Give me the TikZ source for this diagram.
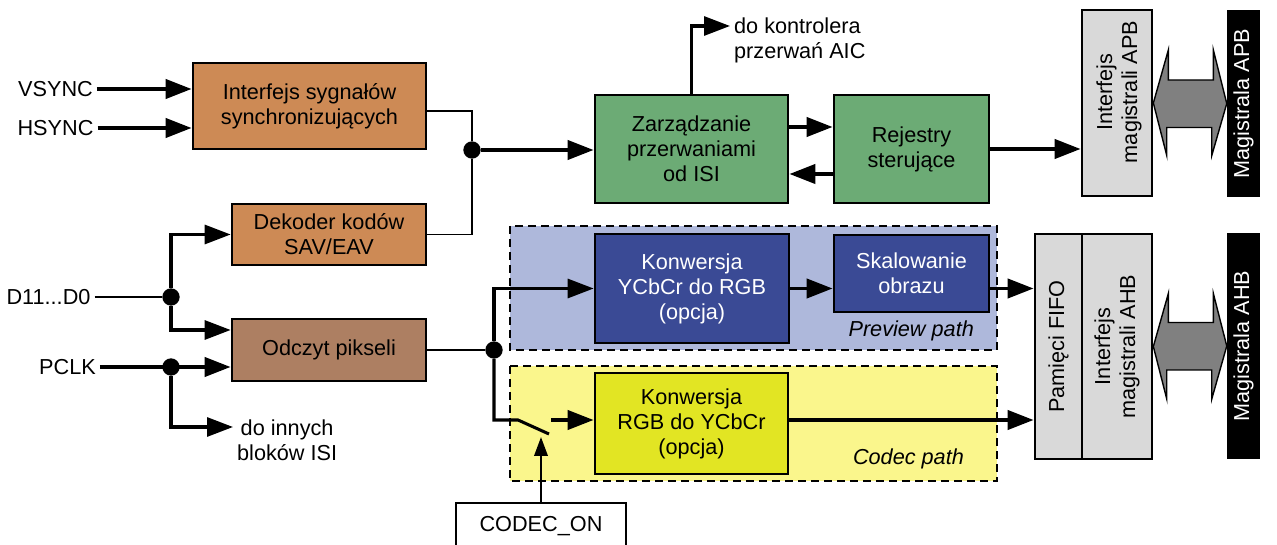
\documentclass[tikz,border=0pt]{standalone}
\usepackage{fontspec}
\setmainfont{Liberation Sans}
\usetikzlibrary{arrows.meta, positioning, calc}
\definecolor{isiorange}{HTML}{CD8A55}
\definecolor{isibrown}{HTML}{AD7F62}
\definecolor{isigreen}{HTML}{6CAB75}
\definecolor{isiblue}{HTML}{3A4A95}
\definecolor{isiyellow}{HTML}{E2E523}
\definecolor{isigray}{HTML}{D9D9D9}
\definecolor{previewbg}{HTML}{AEB8DB}
\definecolor{codecbg}{HTML}{FAF68C}
\definecolor{busgray}{HTML}{808080}

\begin{document}
\begin{tikzpicture}[x=0.03cm, y=-0.03cm,
    font=\fontsize{18.5}{21.3}\selectfont,
    block/.style={draw=black, line width=2.3pt, align=center, inner sep=0pt},
    busbox/.style={fill=black, minimum width=0.99cm, inner sep=0pt},
    dot/.style={circle, fill=black, minimum size=0.52cm, inner sep=0pt},
    region/.style={line width=2pt, dash pattern=on 0.24cm off 0.15cm},
    wire/.style={line width=1.7pt},
    branch/.style={line width=2.6pt},
    sig/.style={line width=3.4pt, -{Triangle[length=0.78cm, width=0.57cm]}},
    sigmid/.style={line width=2.6pt, -{Triangle[length=0.78cm, width=0.57cm]}},
    sigsmall/.style={line width=2.2pt, -{Triangle[length=0.57cm, width=0.4cm]}},
    busarrow/.style={draw=black, line width=1.2pt, fill=busgray}]
    \useasboundingbox (0,0) rectangle (1277,545);

    % Path regions
    \draw[region, fill=previewbg] (510,226) rectangle (997,350);
    \draw[region, fill=codecbg] (510,366) rectangle (997,481);
    \node[anchor=east, font=\fontsize{18.5}{21.3}\selectfont\itshape] (prevlbl) at (978,331) {Preview path};
    \node[anchor=east, font=\fontsize{18.5}{21.3}\selectfont\itshape] (codeclbl) at (968,459) {Codec path};

    % Blocks
    \node[block, fill=isiorange, minimum width=6.99cm, minimum height=2.58cm] (sync) at (309.5,106) {Interfejs sygnałów\\synchronizujących};
    \node[block, fill=isiorange, minimum width=5.82cm, minimum height=1.83cm] (dek) at (329,234.5) {Dekoder kodów\\SAV/EAV};
    \node[block, fill=isibrown, minimum width=5.82cm, minimum height=1.86cm] (odczyt) at (329,350) {Odczyt pikseli};
    \node[block, fill=isigreen, minimum width=5.79cm, minimum height=3.24cm] (zarz) at (691.5,149) {Zarządzanie\\przerwaniami\\od ISI};
    \node[block, fill=isigreen, minimum width=4.65cm, minimum height=3.24cm] (rej) at (911.5,149) {Rejestry\\sterujące};
    \node[block, fill=isiblue, text=white, minimum width=5.82cm, minimum height=3.27cm] (ycc) at (692,288.5) {Konwersja\\YCbCr do RGB\\(opcja)};
    \node[block, fill=isiblue, text=white, minimum width=4.65cm, minimum height=2.31cm] (skal) at (911.5,273.5) {Skalowanie\\obrazu};
    \node[block, fill=isiyellow, minimum width=5.79cm, minimum height=3.03cm] (rgb) at (691.5,423.5) {Konwersja\\RGB do YCbCr\\(opcja)};
    \node[block, fill=white, minimum width=5.1cm, minimum height=1.38cm] (codecon) at (541,526) {CODEC\_ON};

    % Bus interfaces
    \node[block, fill=isigray, minimum width=2.1cm, minimum height=5.58cm] (apb) at (1117,103) {};
    \node[block, fill=isigray, minimum width=1.41cm, minimum height=6.75cm] (fifo) at (1058.5,346.5) {};
    \node[block, fill=isigray, minimum width=2.1cm, minimum height=6.75cm] (ahb) at (1117,346.5) {};
    \node[rotate=90, align=center] (apbtxt) at (1119,92) {Interfejs\\magistrali APB};
    \node[rotate=90] (fifotxt) at (fifo) {Pamięci FIFO};
    \node[rotate=90, align=center] (ahbtxt) at (ahb) {Interfejs\\magistrali AHB};
    \node[busbox, minimum height=5.61cm] (busapb) at (1243.5,103.5) {};
    \node[busbox, minimum height=6.78cm] (busahb) at (1243.5,346) {};
    \node[rotate=90, text=white] (busapbtxt) at (busapb) {Magistrala APB};
    \node[rotate=90, text=white] (busahbtxt) at (busahb) {Magistrala AHB};

    % Signals
    \node (vsync) at (55.5,89) {VSYNC};
    \node (hsync) at (55.5,128) {HSYNC};
    \node (d11) at (48.5,297) {D11...D0};
    \node (pclk) at (67.5,367) {PCLK};
    \node[anchor=west, align=center] (inne) at (233,440) {do innych\\bloków ISI};
    \node[anchor=west, align=left] (aic) at (730,40) {do kontrolera\\przerwań AIC};
    \coordinate (aicpt) at (730,26);
    \coordinate (innept) at (233,427);

    % Junctions and switch
    \node[dot] (j1) at (472,150) {};
    \node[dot] (j2) at (171,297) {};
    \node[dot] (j3) at (171,367) {};
    \node[dot] (j4) at (494,350) {};
    \coordinate (sw1) at (518,420);
    \coordinate (sw2) at (549,434);
    \coordinate (sw3) at (551,420);
    \coordinate (swtip) at (541,437);

    % Connections
    \draw[sig] (vsync.east) -- (vsync -| sync.west);
    \draw[sig] (hsync.east) -- (hsync -| sync.west);
    \draw[wire] ($(sync.east)+(0,5)$) -| (j1);
    \draw[wire] (dek.east) -| (j1);
    \draw[sig] (j1) -- (j1 -| zarz.west);
    \draw[sigmid] (zarz.north) |- (aicpt);
    \draw[sig] ($(zarz.east)+(0,-22)$) -- ($(rej.west)+(0,-22)$);
    \draw[sig] ($(rej.west)+(0,25)$) -- ($(zarz.east)+(0,25)$);
    \draw[sig] (rej.east) -- (rej.east -| apb.west);

    \draw[wire] (d11.east) -- (j2);
    \draw[sigmid] (j2) |- (dek.west);
    \draw[sigmid] (j2) |- ($(odczyt.west)+(0,-20)$);
    \draw[sig] (pclk.east) -- (pclk -| odczyt.west);
    \draw[sigmid] (j3) |- (innept);

    \draw[wire] (odczyt.east) -- (j4);
    \draw[sigmid] (j4) |- (ycc.west);
    \draw[branch] (j4) |- (sw1) -- (sw2);
    \draw[sig] (sw3) -- (sw3 -| rgb.west);
    \draw[sigsmall] (codecon.north) -- (swtip);
    \draw[sig] (ycc.east) -- (ycc.east -| skal.west);
    \draw[sig] (ycc.east -| skal.east) -- (ycc.east -| fifo.west);
    \draw[sig] (sw3 -| rgb.east) -- (sw3 -| fifo.west);

    % Bus arrows
    \draw[busarrow] (apb.east) -- ++(15,-53) -- ++(0,30) -- ++(45,0) -- ++(0,-30) -- (busapb.west)
        -- ++(-15,52) -- ++(0,-28) -- ++(-45,0) -- ++(0,28) -- cycle;
    \draw[busarrow] (ahb.east) -- ++(15,-53) -- ++(0,29) -- ++(45,0) -- ++(0,-29) -- (busahb.west)
        -- ++(-15,53) -- ++(0,-29) -- ++(-45,0) -- ++(0,29) -- cycle;
\end{tikzpicture}
\end{document}
